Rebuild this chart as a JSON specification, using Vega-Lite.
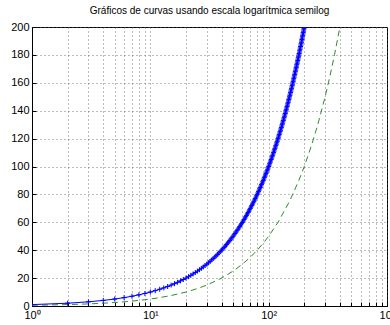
{
  "$schema": "https://vega.github.io/schema/vega-lite/v6.json",
  "autosize": {"type": "none"},
  "padding": {"left": 32, "top": 27, "right": 3, "bottom": 19},
  "width": 355,
  "height": 279,
  "background": "white",
  "title": {"text": "Gráficos de curvas usando escala logarítmica semilog", "font": "Liberation Sans", "fontSize": 10, "fontWeight": "normal", "color": "black", "offset": 5, "anchor": "middle"},
  "config": {
    "view": {"stroke": "black", "strokeWidth": 1},
    "axis": {"labelFont": "Liberation Sans", "labelFontSize": 11, "labelColor": "black", "domainColor": "black", "tickColor": "black", "gridColor": "#555555", "gridDash": [1, 3], "gridOpacity": 0.8, "title": null}
  },
  "datasets": {
    "blue": [
      {"x":1,"y":1},{"x":2,"y":2},{"x":3,"y":3},{"x":4,"y":4},{"x":5,"y":5},{"x":6,"y":6},{"x":7,"y":7},{"x":8,"y":8},{"x":9,"y":9},{"x":10,"y":10},
      {"x":11,"y":11},{"x":12,"y":12},{"x":13,"y":13},{"x":14,"y":14},{"x":15,"y":15},{"x":16,"y":16},{"x":17,"y":17},{"x":18,"y":18},{"x":19,"y":19},{"x":20,"y":20},
      {"x":21,"y":21},{"x":22,"y":22},{"x":23,"y":23},{"x":24,"y":24},{"x":25,"y":25},{"x":26,"y":26},{"x":27,"y":27},{"x":28,"y":28},{"x":29,"y":29},{"x":30,"y":30},
      {"x":31,"y":31},{"x":32,"y":32},{"x":33,"y":33},{"x":34,"y":34},{"x":35,"y":35},{"x":36,"y":36},{"x":37,"y":37},{"x":38,"y":38},{"x":39,"y":39},{"x":40,"y":40},
      {"x":41,"y":41},{"x":42,"y":42},{"x":43,"y":43},{"x":44,"y":44},{"x":45,"y":45},{"x":46,"y":46},{"x":47,"y":47},{"x":48,"y":48},{"x":49,"y":49},{"x":50,"y":50},
      {"x":51,"y":51},{"x":52,"y":52},{"x":53,"y":53},{"x":54,"y":54},{"x":55,"y":55},{"x":56,"y":56},{"x":57,"y":57},{"x":58,"y":58},{"x":59,"y":59},{"x":60,"y":60},
      {"x":61,"y":61},{"x":62,"y":62},{"x":63,"y":63},{"x":64,"y":64},{"x":65,"y":65},{"x":66,"y":66},{"x":67,"y":67},{"x":68,"y":68},{"x":69,"y":69},{"x":70,"y":70},
      {"x":71,"y":71},{"x":72,"y":72},{"x":73,"y":73},{"x":74,"y":74},{"x":75,"y":75},{"x":76,"y":76},{"x":77,"y":77},{"x":78,"y":78},{"x":79,"y":79},{"x":80,"y":80},
      {"x":81,"y":81},{"x":82,"y":82},{"x":83,"y":83},{"x":84,"y":84},{"x":85,"y":85},{"x":86,"y":86},{"x":87,"y":87},{"x":88,"y":88},{"x":89,"y":89},{"x":90,"y":90},
      {"x":91,"y":91},{"x":92,"y":92},{"x":93,"y":93},{"x":94,"y":94},{"x":95,"y":95},{"x":96,"y":96},{"x":97,"y":97},{"x":98,"y":98},{"x":99,"y":99},{"x":100,"y":100},
      {"x":101,"y":101},{"x":102,"y":102},{"x":103,"y":103},{"x":104,"y":104},{"x":105,"y":105},{"x":106,"y":106},{"x":107,"y":107},{"x":108,"y":108},{"x":109,"y":109},{"x":110,"y":110},
      {"x":111,"y":111},{"x":112,"y":112},{"x":113,"y":113},{"x":114,"y":114},{"x":115,"y":115},{"x":116,"y":116},{"x":117,"y":117},{"x":118,"y":118},{"x":119,"y":119},{"x":120,"y":120},
      {"x":121,"y":121},{"x":122,"y":122},{"x":123,"y":123},{"x":124,"y":124},{"x":125,"y":125},{"x":126,"y":126},{"x":127,"y":127},{"x":128,"y":128},{"x":129,"y":129},{"x":130,"y":130},
      {"x":131,"y":131},{"x":132,"y":132},{"x":133,"y":133},{"x":134,"y":134},{"x":135,"y":135},{"x":136,"y":136},{"x":137,"y":137},{"x":138,"y":138},{"x":139,"y":139},{"x":140,"y":140},
      {"x":141,"y":141},{"x":142,"y":142},{"x":143,"y":143},{"x":144,"y":144},{"x":145,"y":145},{"x":146,"y":146},{"x":147,"y":147},{"x":148,"y":148},{"x":149,"y":149},{"x":150,"y":150},
      {"x":151,"y":151},{"x":152,"y":152},{"x":153,"y":153},{"x":154,"y":154},{"x":155,"y":155},{"x":156,"y":156},{"x":157,"y":157},{"x":158,"y":158},{"x":159,"y":159},{"x":160,"y":160},
      {"x":161,"y":161},{"x":162,"y":162},{"x":163,"y":163},{"x":164,"y":164},{"x":165,"y":165},{"x":166,"y":166},{"x":167,"y":167},{"x":168,"y":168},{"x":169,"y":169},{"x":170,"y":170},
      {"x":171,"y":171},{"x":172,"y":172},{"x":173,"y":173},{"x":174,"y":174},{"x":175,"y":175},{"x":176,"y":176},{"x":177,"y":177},{"x":178,"y":178},{"x":179,"y":179},{"x":180,"y":180},
      {"x":181,"y":181},{"x":182,"y":182},{"x":183,"y":183},{"x":184,"y":184},{"x":185,"y":185},{"x":186,"y":186},{"x":187,"y":187},{"x":188,"y":188},{"x":189,"y":189},{"x":190,"y":190},
      {"x":191,"y":191},{"x":192,"y":192},{"x":193,"y":193},{"x":194,"y":194},{"x":195,"y":195},{"x":196,"y":196},{"x":197,"y":197},{"x":198,"y":198},{"x":199,"y":199},{"x":200,"y":200}
    ],
    "green": [
      {"x":1,"y":0.5},{"x":2,"y":1},{"x":3,"y":1.5},{"x":4,"y":2},{"x":5,"y":2.5},{"x":6,"y":3},{"x":7,"y":3.5},{"x":8,"y":4},{"x":9,"y":4.5},{"x":10,"y":5},
      {"x":12,"y":6},{"x":15,"y":7.5},{"x":20,"y":10},{"x":25,"y":12.5},{"x":30,"y":15},{"x":40,"y":20},{"x":50,"y":25},{"x":60,"y":30},{"x":70,"y":35},{"x":80,"y":40},
      {"x":90,"y":45},{"x":100,"y":50},{"x":120,"y":60},{"x":150,"y":75},{"x":180,"y":90},{"x":200,"y":100},{"x":230,"y":115},{"x":260,"y":130},{"x":300,"y":150},{"x":330,"y":165},{"x":360,"y":180},{"x":400,"y":200}
    ]
  },
  "encoding": {
    "x": {"field": "x", "type": "quantitative", "scale": {"type": "log", "domain": [1, 1000], "nice": false},
      "axis": {"values": [1,2,3,4,5,6,7,8,9,10,20,30,40,50,60,70,80,90,100,200,300,400,500,600,700,800,900,1000],
        "tickCount": 40,
        "labelExpr": "datum.value == 1 ? '10⁰' : datum.value == 10 ? '10¹' : datum.value == 100 ? '10²' : datum.value == 1000 ? '10³' : ''",
        "tickSize": -4, "labelPadding": 7, "labelFlush": false, "labelOverlap": false, "labelBound": false, "grid": true}},
    "y": {"field": "y", "type": "quantitative", "scale": {"domain": [0, 200], "nice": false},
      "axis": {"values": [0,20,40,60,80,100,120,140,160,180,200], "tickCount": 20, "tickSize": -4, "labelPadding": 7, "labelOverlap": false, "labelFlush": false, "grid": true}}
  },
  "layer": [
    {
      "data": {"name": "green"},
      "mark": {"type": "line", "color": "#2e8b2e", "strokeWidth": 1, "strokeDash": [6, 4], "clip": true}
    },
    {
      "data": {"name": "blue"},
      "mark": {"type": "line", "color": "#0000ff", "strokeWidth": 1, "clip": true}
    },
    {
      "data": {"name": "blue"},
      "mark": {"type": "point", "shape": "M-1,0L1,0M0,-1L0,1", "filled": false, "color": "#0000ff", "size": 25, "strokeWidth": 1, "opacity": 1, "clip": true}
    }
  ]
}
